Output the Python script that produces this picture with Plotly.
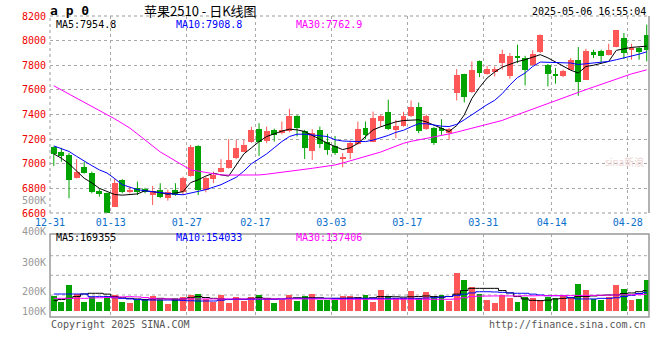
import plotly.graph_objects as go

# ---------------- data ----------------
dates = ["12-31",
         "01-02", "01-03", "01-06", "01-07", "01-08", "01-09", "01-10", "01-13", "01-14", "01-15",
         "01-16", "01-17", "01-20", "01-21", "01-22", "01-23", "01-24", "01-27",
         "02-05", "02-06", "02-07", "02-10", "02-11", "02-12", "02-13", "02-14", "02-17", "02-18",
         "02-19", "02-20", "02-21", "02-24", "02-25", "02-26", "02-27", "02-28",
         "03-03", "03-04", "03-05", "03-06", "03-07", "03-10", "03-11", "03-12", "03-13", "03-14",
         "03-17", "03-18", "03-19", "03-20", "03-21", "03-24", "03-25", "03-26", "03-27", "03-28", "03-31",
         "04-01", "04-02", "04-03", "04-07", "04-08", "04-09", "04-10", "04-11", "04-14", "04-15",
         "04-16", "04-17", "04-18", "04-21", "04-22", "04-23", "04-24", "04-25", "04-28", "04-29", "04-30"]

opens = [7135, 7099, 7072, 6887, 6977, 6928, 6781, 6760, 6651, 6869,
         6773, 6801, 6794, 6746, 6787, 6720, 6787, 6773, 6901, 7145,
         6787, 6874, 6936, 6964, 7045, 7099, 7180, 7283, 7186, 7275,
         7248, 7262, 7389, 7262, 7107, 7275, 7180, 7148, 7039, 7086,
         7161, 7289, 7180, 7351, 7424, 7275, 7308, 7384, 7465, 7281,
         7289, 7289, 7253, 7574, 7731, 7579, 7831, 7729, 7742, 7818,
         7709, 7877, 7859, 7804, 7904, 7804, 7731, 7709, 7764, 7845,
         7682, 7904, 7912, 7886, 7948, 8021, 7921, 7940, 8048]
highs = [7140, 7129, 7086, 7037, 7015, 6936, 6793, 6765, 6882, 6875,
         6814, 6855, 6805, 6820, 6842, 6790, 6842, 6895, 7153, 7150,
         6895, 6936, 7037, 7200, 7194, 7194, 7300, 7330, 7302, 7285,
         7343, 7446, 7395, 7275, 7281, 7302, 7243, 7226, 7086, 7188,
         7343, 7343, 7424, 7397, 7520, 7357, 7422, 7514, 7497, 7400,
         7300, 7362, 7290, 7769, 7731, 7831, 7839, 7796, 7790, 7926,
         7899, 7967, 7877, 7921, 8050, 7810, 7777, 7764, 7859, 7948,
         7934, 7926, 7926, 7975, 8085, 8062, 7975, 7948, 8130]
lows = [6982, 7017, 6720, 6880, 6920, 6760, 6733, 6595, 6651, 6760,
        6760, 6746, 6760, 6665, 6720, 6700, 6740, 6746, 6895, 6746,
        6768, 6842, 6930, 6960, 7037, 7095, 7170, 7064, 7167, 7180,
        7240, 7255, 7221, 7039, 7031, 7126, 7072, 7072, 6972, 7037,
        7155, 7200, 7175, 7302, 7275, 7208, 7300, 7380, 7248, 7275,
        7153, 7235, 7194, 7514, 7497, 7575, 7704, 7725, 7709, 7764,
        7690, 7818, 7636, 7800, 7900, 7628, 7650, 7704, 7760, 7552,
        7680, 7859, 7823, 7880, 7945, 7851, 7845, 7845, 7831]
closes = [7080, 7064, 6869, 6936, 6928, 6773, 6755, 6602, 6842, 6773,
          6787, 6773, 6773, 6781, 6728, 6773, 6746, 6882, 7139, 6787,
          6882, 6909, 6964, 7031, 7126, 7153, 7275, 7180, 7262, 7235,
          7275, 7389, 7289, 7126, 7248, 7161, 7113, 7091, 7053, 7172,
          7281, 7235, 7370, 7384, 7281, 7308, 7389, 7465, 7270, 7389,
          7172, 7262, 7281, 7723, 7546, 7758, 7737, 7769, 7769, 7888,
          7877, 7864, 7764, 7894, 8048, 7729, 7709, 7750, 7839, 7660,
          7912, 7880, 7872, 7926, 8083, 7899, 7940, 7908, 7926]
volumes = [127000, 78000, 216000, 141000, 78000, 113000, 78000, 127000, 133000, 78000,
           69000, 91000, 97000, 125000, 97000, 58000, 105000, 113000, 133000, 141000,
           97000, 78000, 133000, 69000, 113000, 83000, 113000, 133000, 105000, 69000,
           91000, 133000, 86000, 127000, 141000, 91000, 91000, 91000, 127000, 125000,
           119000, 133000, 78000, 174000, 125000, 105000, 105000, 166000, 105000, 158000,
           119000, 130000, 86000, 318000, 257000, 202000, 141000, 91000, 69000, 133000,
           105000, 78000, 119000, 105000, 91000, 119000, 105000, 133000, 105000, 224000,
           174000, 100000, 91000, 119000, 216000, 183000, 91000, 100000, 257000]

ma5 = [7080, 7045, 7000, 6940, 6882, 6845, 6800, 6775, 6750, 6745,
       6750, 6755, 6781, 6775, 6765, 6752, 6760, 6773, 6847, 6870,
       6900, 6923, 6910, 6900, 6990, 7080, 7129, 7180, 7221, 7245,
       7265, 7281, 7275, 7262, 7230, 7195, 7167, 7140, 7115, 7130,
       7165, 7220, 7275, 7300, 7320, 7340, 7351, 7355, 7357, 7340,
       7316, 7290, 7262, 7310, 7397, 7530, 7620, 7696, 7745, 7785,
       7810, 7830, 7845, 7865, 7886, 7860, 7825, 7790, 7760, 7737,
       7790, 7800, 7815, 7831, 7921, 7935, 7945, 7950, 7955]
ma10 = [7145, 7125, 7100, 7060, 7020, 6985, 6950, 6925, 6880, 6830,
        6810, 6790, 6780, 6772, 6765, 6758, 6752, 6748, 6760, 6775,
        6790, 6810, 6830, 6860, 6890, 6940, 7000, 7040, 7080, 7130,
        7180, 7221, 7240, 7240, 7235, 7230, 7221, 7195, 7185, 7182,
        7180, 7180, 7192, 7208, 7230, 7255, 7272, 7300, 7325, 7325,
        7315, 7305, 7302, 7320, 7357, 7400, 7440, 7480, 7515, 7570,
        7640, 7700, 7737, 7790, 7826, 7825, 7822, 7820, 7818, 7806,
        7812, 7818, 7825, 7831, 7845, 7859, 7875, 7890, 7909]
ma30 = [7633, 7600, 7568, 7535, 7503, 7470, 7438, 7400, 7365, 7328,
        7290, 7242, 7193, 7145, 7096, 7060, 7023, 6987, 6950, 6940,
        6930, 6919, 6909, 6908, 6907, 6907, 6908, 6909, 6915, 6922,
        6929, 6936, 6945, 6954, 6963, 6972, 6981, 6990, 7006, 7023,
        7039, 7056, 7072, 7095, 7119, 7142, 7166, 7182, 7193, 7204,
        7215, 7228, 7242, 7257, 7272, 7290, 7305, 7320, 7336, 7352,
        7376, 7399, 7422, 7445, 7468, 7491, 7514, 7537, 7560, 7581,
        7602, 7623, 7645, 7666, 7687, 7708, 7730, 7746, 7763]

vol_ma5 = [86000, 95000, 105000, 120000, 141000, 147000, 147000, 140000, 120000, 110000,
           105000, 100000, 96000, 100000, 105000, 100000, 92000, 100000, 110000, 120000,
           112000, 105000, 100000, 95000, 100000, 98000, 105000, 110000, 105000, 100000,
           100000, 105000, 110000, 108000, 110000, 110000, 105000, 105000, 105000, 108000,
           110000, 105000, 110000, 120000, 120000, 118000, 115000, 118000, 120000, 125000,
           120000, 115000, 120000, 140000, 170000, 188000, 188000, 188000, 188000, 170000,
           150000, 120000, 100000, 88000, 86000, 90000, 100000, 105000, 110000, 120000,
           120000, 125000, 130000, 133000, 133000, 145000, 150000, 160000, 169355]
vol_ma10 = [141000, 141000, 141000, 141000, 141000, 119000, 119000, 119000, 110000, 105000,
            100000, 95000, 91000, 91000, 91000, 91000, 91000, 88000, 85000, 83000,
            83000, 83000, 90000, 97000, 97000, 97000, 97000, 97000, 97000, 97000,
            100000, 105000, 105000, 105000, 105000, 105000, 105000, 105000, 105000, 105000,
            105000, 105000, 105000, 105000, 105000, 105000, 105000, 105000, 105000, 108000,
            110000, 115000, 120000, 130000, 140000, 150000, 160000, 160000, 158000, 155000,
            150000, 147000, 147000, 140000, 133000, 127000, 127000, 127000, 110000, 100000,
            100000, 100000, 105000, 105000, 110000, 120000, 130000, 145000, 154033]
vol_ma30 = [105000, 105000, 105000, 105000, 105000, 108000, 110000, 112000, 115000, 117000,
            119000, 117000, 112000, 105000, 100000, 100000, 100000, 100000, 100000, 100000,
            100000, 100000, 100000, 100000, 100000, 100000, 100000, 100000, 100000, 100000,
            100000, 100000, 100000, 100000, 100000, 100000, 100000, 97000, 97000, 97000,
            97000, 97000, 97000, 97000, 97000, 97000, 97000, 97000, 97000, 97000,
            97000, 97000, 97000, 100000, 110000, 120000, 123000, 124000, 125000, 125000,
            125000, 125000, 126000, 126000, 127000, 127000, 128000, 128000, 128000, 129000,
            130000, 130000, 131000, 132000, 133000, 134000, 135000, 136000, 137406]

tick_dates = ["12-31", "01-13", "01-27", "02-17", "03-03", "03-17", "03-31", "04-14", "04-28"]
price_ticks = [6600, 6800, 7000, 7200, 7400, 7600, 7800, 8000, 8200]
vol_tick_values_low = [100000, 200000]
vol_tick_labels_low = ["100K", "200K"]
vol_tick_values_high = [300000, 400000, 500000]
vol_tick_labels_high = ["300K", "400K", "500K"]

symbol_text = "a p 0"
title_text = "苹果2510 - 日K线图"
timestamp_text = "2025-05-06 16:55:04"
price_ma_labels = ["MA5:7954.8", "MA10:7908.8", "MA30:7762.9"]
vol_ma_labels = ["MA5:169355", "MA10:154033", "MA30:137406"]
copyright_text = "Copyright 2025 SINA.COM"
url_text = "http://finance.sina.com.cn"
watermark_text = "sina新浪"

# ---------------- style ----------------
UP = "#FF5757"
DOWN = "#00A300"
MA_COLORS = ["#000000", "#0000FF", "#FF00FF"]
GRID = "#A8A8A8"
BORDER = "#999999"
MONO = "DejaVu Sans Mono"

W, H = 660, 360
L, R, T, B = 50, 649, 16, 317          # plot frame in pixels
P_BOT, V_TOP = 213, 234                # price panel bottom, volume panel top


def px(X):
    return (X - L) / (R - L)


def py(Y):
    return (B - Y) / (B - T)


n = len(dates)
xs = list(range(n))
is_up = [c >= o for o, c in zip(opens, closes)]
colors = [UP if u else DOWN for u in is_up]

fig = go.Figure()

# wicks
for flag, col in ((True, UP), (False, DOWN)):
    wx, wy = [], []
    for i in xs:
        if is_up[i] == flag:
            wx += [i, i, None]
            wy += [lows[i], highs[i], None]
    fig.add_trace(go.Scatter(x=wx, y=wy, mode="lines", line=dict(color=col, width=1),
                             hoverinfo="skip", showlegend=False, xaxis="x", yaxis="y"))

# bodies
body_base = [min(o, c) for o, c in zip(opens, closes)]
body_h = [max(abs(c - o), 7) for o, c in zip(opens, closes)]
fig.add_trace(go.Bar(x=xs, y=body_h, base=body_base, width=0.78,
                     marker=dict(color=colors, line=dict(width=0)),
                     showlegend=False, xaxis="x", yaxis="y"))

# price MAs
for ser, col in zip((ma5, ma10, ma30), MA_COLORS):
    fig.add_trace(go.Scatter(x=xs, y=ser, mode="lines", line=dict(color=col, width=1),
                             showlegend=False, xaxis="x", yaxis="y"))

# volume bars
fig.add_trace(go.Bar(x=xs, y=volumes, width=0.78,
                     marker=dict(color=colors, line=dict(width=0)),
                     showlegend=False, xaxis="x2", yaxis="y2"))
for ser, col in zip((vol_ma5, vol_ma10, vol_ma30), MA_COLORS):
    fig.add_trace(go.Scatter(x=xs, y=ser, mode="lines", line=dict(color=col, width=1, shape="hvh"),
                             showlegend=False, xaxis="x2", yaxis="y2"))

# invisible traces so the volume label axes are rendered
fig.add_trace(go.Scatter(x=[0], y=[vol_tick_values_low[0]], mode="markers", marker=dict(opacity=0),
                         hoverinfo="skip", showlegend=False, xaxis="x3", yaxis="y3"))
fig.add_trace(go.Scatter(x=[0], y=[vol_tick_values_high[0]], mode="markers", marker=dict(opacity=0),
                         hoverinfo="skip", showlegend=False, xaxis="x4", yaxis="y4"))

tick_pos = [dates.index(d) - 0.5 for d in tick_dates]
xrange = [-0.5, n - 0.7]
vol_label_font = dict(family=MONO, size=10, color="#999999")

fig.update_layout(
    width=W, height=H,
    margin=dict(l=L, r=W - R, t=T, b=H - B),
    paper_bgcolor="white", plot_bgcolor="rgba(0,0,0,0)",
    bargap=0, showlegend=False,
    font=dict(family=MONO, size=10, color="#000"),
    xaxis=dict(domain=[0, 1], anchor="y", range=xrange, tickmode="array",
               tickvals=tick_pos, ticktext=tick_dates, showgrid=True, gridcolor=GRID,
               griddash="dot", gridwidth=1, zeroline=False, showline=False, ticks="",
               ticklabelstandoff=2,
               tickfont=dict(family=MONO, size=10, color="#0A70CC")),
    xaxis2=dict(domain=[0, 1], anchor="y2", range=xrange, tickmode="array",
                tickvals=tick_pos, showticklabels=False, showgrid=True, gridcolor=GRID,
                griddash="dot", gridwidth=1, zeroline=False, showline=False, ticks=""),
    xaxis3=dict(domain=[0, 1], anchor="y3", range=xrange, visible=False, showgrid=False),
    xaxis4=dict(domain=[0, 1], anchor="y4", range=xrange, visible=False, showgrid=False),
    yaxis=dict(domain=[py(P_BOT), 1], anchor="x", range=[6600, 8200], tickmode="array",
               tickvals=price_ticks, showgrid=True, gridcolor=GRID, griddash="dot",
               zeroline=False, showline=False, ticks="", ticklabelstandoff=3,
               tickfont=dict(family=MONO, size=10, color="#EE0000")),
    yaxis2=dict(domain=[0, py(V_TOP)], anchor="x2", range=[-49800, 639100],
                showticklabels=False, showgrid=False, zeroline=False, showline=False),
    yaxis3=dict(domain=[0, py(196)], anchor="x3", range=[70000, 675000], tickmode="array",
                tickvals=vol_tick_values_low, ticktext=vol_tick_labels_low, showgrid=False,
                zeroline=False, showline=False, ticks="", ticklabelstandoff=3,
                tickfont=vol_label_font),
    yaxis4=dict(domain=[0, py(196)], anchor="x4", range=[121500, 515600], tickmode="array",
                tickvals=vol_tick_values_high, ticktext=vol_tick_labels_high, showgrid=False,
                zeroline=False, showline=False, ticks="", ticklabelstandoff=3,
                tickfont=vol_label_font),
)

shapes = []
# price panel frame
shapes.append(dict(type="line", xref="paper", yref="paper", x0=0, x1=1, y0=1, y1=1,
                   line=dict(color=BORDER, width=1, dash="dot")))
shapes.append(dict(type="line", xref="paper", yref="paper", x0=0, x1=1, y0=py(P_BOT), y1=py(P_BOT),
                   line=dict(color=BORDER, width=1, dash="dot")))
shapes.append(dict(type="line", xref="paper", yref="paper", x0=0, x1=0, y0=py(P_BOT), y1=1,
                   line=dict(color=BORDER, width=1, dash="dot")))
shapes.append(dict(type="line", xref="paper", yref="paper", x0=1, x1=1, y0=py(P_BOT), y1=1,
                   line=dict(color=BORDER, width=1.5)))
# volume panel frame + grid
shapes.append(dict(type="rect", xref="paper", yref="paper", x0=0, x1=1, y0=0, y1=py(V_TOP),
                   line=dict(color=BORDER, width=1.5)))
for Y in (255.7, 275.3, 295.0):
    shapes.append(dict(type="line", xref="paper", yref="paper", x0=0, x1=1, y0=py(Y), y1=py(Y),
                       line=dict(color=GRID, width=1, dash="dot"), layer="below"))
fig.update_layout(shapes=shapes)

ann = []


def add_text(text, X, Y, color="#000", size=10, anchor="left", family=MONO, bold=False):
    if bold:
        text = "<b>" + text + "</b>"
    ann.append(dict(text=text, x=px(X), y=py(Y), xref="paper", yref="paper",
                    xanchor=anchor, yanchor="middle", showarrow=False,
                    font=dict(family=family, size=size, color=color)))


add_text(symbol_text, 48, 10, size=13, bold=True)
add_text(title_text, 200, 10, size=13, anchor="center", family="Noto Sans CJK SC")
add_text(timestamp_text, 648, 11, size=10, anchor="right")
for lab, X, col in zip(price_ma_labels, (54, 174, 294), MA_COLORS):
    add_text(lab, X, 24.5, color=col)
for lab, X, col in zip(vol_ma_labels, (54, 174, 294), MA_COLORS):
    add_text(lab, X, 238, color=col)
add_text(copyright_text, 49, 324, color="#555555")
add_text(url_text, 648, 324, color="#555555", anchor="right")
add_text(watermark_text, 646, 161, color="#EED6D6", size=10, anchor="right",
         family="Noto Sans CJK SC")
fig.update_layout(annotations=ann)

fig.write_html("out.html", config={"displayModeBar": False},
               post_script="document.body.style.margin='0';document.body.style.overflow='hidden';")
